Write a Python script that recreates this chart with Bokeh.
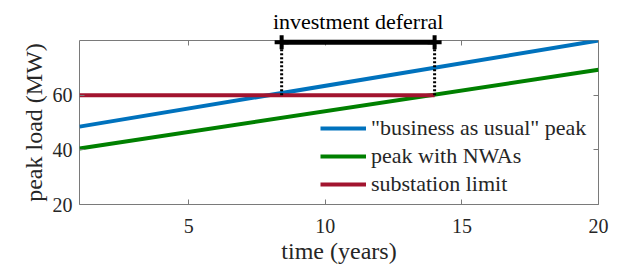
from bokeh.plotting import figure
from bokeh.models import LinearAxis, Range1d, FixedTicker, Legend, LegendItem
from bokeh.core.properties import value
from bokeh.embed import file_html
from bokeh.resources import INLINE

# data
years_bau = [1, 20]
bau_peak = [48.5, 80.0]
years_nwa = [1, 20]
nwa_peak = [40.5, 69.3]
years_limit = [1, 14]
limit = [60, 60]
deferral_start = 8.4
deferral_end = 14.0
deferral_level = 79.4
title_x = [11.2]
title_y = [80]
title_text = ["investment deferral"]
x_ticks = [5, 10, 15, 20]
y_ticks = [20, 40, 60]

FONT = "Liberation Serif"
TXT = "#262626"

p = figure(width=615, height=272, output_backend="svg", toolbar_location=None,
           x_range=Range1d(1, 20), y_range=Range1d(20, 80),
           min_border_left=79, min_border_right=17, min_border_top=40, min_border_bottom=68,
           x_axis_label="time (years)", y_axis_label="peak load (MW)")
p.grid.visible = False
p.outline_line_color = "#7a7a7a"
p.outline_line_width = 1
p.background_fill_color = "white"
p.border_fill_color = "white"

def style(ax, labels=True):
    ax.axis_line_color = None
    ax.major_tick_in = 5
    ax.major_tick_out = 0
    ax.minor_tick_line_color = None
    ax.major_tick_line_color = "#7a7a7a"
    ax.major_label_text_font = FONT
    ax.major_label_text_font_size = "20px"
    ax.major_label_text_color = TXT
    ax.axis_label_text_font = FONT
    ax.axis_label_text_font_size = "24px"
    ax.axis_label_text_font_style = "normal"
    ax.axis_label_text_color = TXT
    if not labels:
        ax.major_label_text_font_size = "0px"
        ax.major_label_text_alpha = 0
        ax.major_label_standoff = 0

p.xaxis.ticker = FixedTicker(ticks=x_ticks)
p.yaxis.ticker = FixedTicker(ticks=y_ticks)
style(p.xaxis[0])
style(p.yaxis[0])
p.xaxis.major_label_standoff = 14
p.yaxis.major_label_standoff = 7
p.xaxis.axis_label_standoff = 2
p.yaxis.axis_label_standoff = 3

top = LinearAxis(ticker=FixedTicker(ticks=x_ticks))
style(top, labels=False)
right = LinearAxis(ticker=FixedTicker(ticks=y_ticks))
style(right, labels=False)
p.add_layout(top, "above")
p.add_layout(right, "right")

blue = "#0072BD"
green = "#008000"
red = "#A2142F"

r_bau = p.line(years_bau, bau_peak, line_color=blue, line_width=4)
r_nwa = p.line(years_nwa, nwa_peak, line_color=green, line_width=4)
r_lim = p.line(years_limit, limit, line_color=red, line_width=4)

# dotted verticals
p.line([deferral_start, deferral_start], [limit[0], deferral_level], line_color="black",
       line_width=3, line_dash="2 2", level="overlay")
p.line([deferral_end, deferral_end], [limit[0], deferral_level], line_color="black",
       line_width=3, line_dash="2 2", level="overlay")
# deferral bar
p.line([deferral_start, deferral_end], [deferral_level, deferral_level], line_color="black",
       line_width=5, level="overlay")
p.scatter([deferral_start, deferral_end], [deferral_level, deferral_level], marker="cross",
          size=14, line_color="black", line_width=4, level="overlay")

p.text(x=title_x, y=title_y, text=title_text, y_offset=-19, text_align="center",
       text_baseline="alphabetic", text_font=value(FONT), text_font_size="22px",
       text_color="black", level="overlay")

legend = Legend(items=[
    LegendItem(label='"business as usual" peak', renderers=[r_bau]),
    LegendItem(label="peak with NWAs", renderers=[r_nwa]),
    LegendItem(label="substation limit", renderers=[r_lim]),
], location=(241, 7), padding=0, margin=0, spacing=2,
    glyph_width=46, glyph_height=20, label_height=20, label_standoff=5,
    label_text_font=FONT, label_text_font_size="22px", label_text_color=TXT,
    border_line_alpha=0, background_fill_alpha=0)
p.add_layout(legend, "center")

open("out.html", "w").write(file_html(p, INLINE))
